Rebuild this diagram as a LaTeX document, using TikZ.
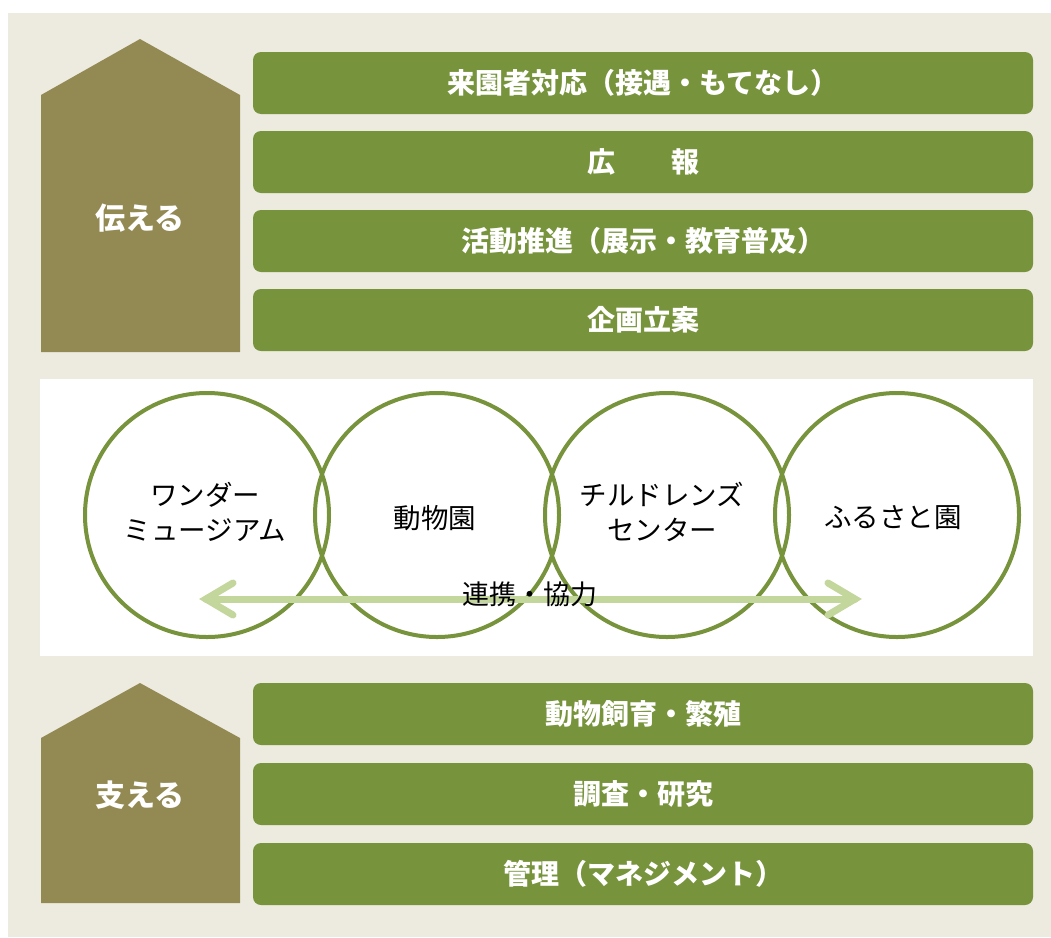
\documentclass[tikz,border=0pt]{standalone}
\usepackage{fontspec}
\newfontfamily\jp{Noto Sans CJK JP}
\usetikzlibrary{calc}
\definecolor{beige}{HTML}{EDEBE0}
\definecolor{housecol}{HTML}{938953}
\definecolor{boxgreen}{HTML}{77933C}
\definecolor{arrowgreen}{HTML}{C3D69B}
\tikzset{
  housefill/.style={fill=housecol},
  houselabel/.style={text=white, font=\jp\bfseries\fontsize{30}{35}\selectfont, inner sep=0},
  taskbox/.style={fill=boxgreen, rounded corners=8pt, minimum width=780pt, minimum height=62pt, inner sep=0,
    text=white, font=\jp\bfseries\fontsize{28}{32}\selectfont},
  ring/.style={circle, draw=boxgreen, line width=4pt, minimum size=244pt, inner sep=0},
  ringtext/.style={align=center, text=black, font=\jp\fontsize{27.5}{35}\selectfont, inner sep=0},
  linktext/.style={text=black, font=\jp\fontsize{27}{32}\selectfont, inner sep=0},
  linkarrow/.style={draw=arrowgreen, line width=7pt, line cap=round, line join=miter},
}
\begin{document}
\begin{tikzpicture}[x=1pt,y=-1pt]
\useasboundingbox (0,0) rectangle (1051,937);
\fill[beige] (8,13) rectangle (1051,937);

% upper house
\fill[housefill] (41,95) -- (140,39) -- (240,95) -- (240,352) -- (41,352) -- cycle;
\node[houselabel] (tsutaeru) at (140,218) {伝える};

% upper boxes
\node[taskbox] (b1) at (643,83) {来園者対応（接遇・もてなし）};
\node[taskbox] (b2) at (643,162) {広　　報};
\node[taskbox] (b3) at (643,241) {活動推進（展示・教育普及）};
\node[taskbox] (b4) at (643,320) {企画立案};

% white panel
\fill[white] (40,379) rectangle (1033,656);

% circles
\node[ring] (c1) at (207,515) {};
\node[ring] (c2) at (437,515) {};
\node[ring] (c3) at (667,515) {};
\node[ring] (c4) at (897,515) {};

% arrow
\coordinate (aL) at (206,599);
\coordinate (aR) at (855,599);
\draw[linkarrow] (aL) -- (aR);
\draw[linkarrow] ($(aL)+(27,-16)$) -- (aL) -- ($(aL)+(27,16)$);
\draw[linkarrow] ($(aR)+(-27,-16)$) -- (aR) -- ($(aR)+(-27,16)$);

% circle texts
\node[ringtext] (t1) at (205,512) {ワンダー\\ミュージアム};
\node[ringtext] (t2) at (435,518) {動物園};
\node[ringtext] (t3) at (662,512) {チルドレンズ\\センター};
\node[ringtext] (t4) at (893,518) {ふるさと園};
\node[linktext] (link) at (530,594) {連携・協力};

% lower house
\fill[housefill] (41,738) -- (140,683) -- (240,738) -- (240,903) -- (41,903) -- cycle;
\node[houselabel] (sasaeru) at (140,795) {支える};

% lower boxes
\node[taskbox] (b5) at (643,714) {動物飼育・繁殖};
\node[taskbox] (b6) at (643,794) {調査・研究};
\node[taskbox] (b7) at (643,874) {管理（マネジメント）};
\end{tikzpicture}
\end{document}
